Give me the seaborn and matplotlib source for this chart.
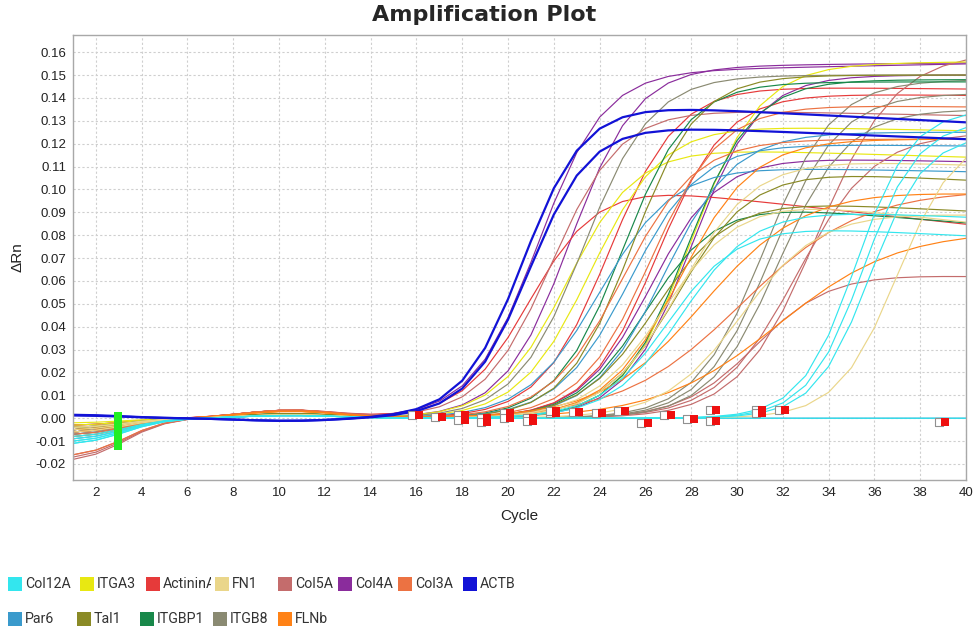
import numpy as np
import pandas as pd
import matplotlib
matplotlib.use("Agg")
import matplotlib.pyplot as plt
import seaborn as sns
from matplotlib.patches import Rectangle
from matplotlib.transforms import Bbox

# ---------------- data ----------------
genes = ["Col12A", "ITGA3", "ActininA", "FN1", "Col5A", "Col4A", "Col3A",
         "ACTB", "Par6", "Tal1", "ITGBP1", "ITGB8", "FLNb"]
gene_colors = ["#33e6ee", "#e8e812", "#e63a3a", "#ead68a", "#c46c6c", "#8a2c9c",
               "#ec7242", "#1212d6", "#3a9acc", "#8a8a26", "#18884a", "#8a8a72",
               "#ff8216"]
# small baseline hump around cycle 10 per gene
gene_bump = [0.0012, 0.0015, 0.0035, 0.0015, 0.0035, 0.0015, 0.0035,
             -0.0012, 0.0012, 0.0020, 0.0020, 0.0015, 0.0030]

cycles = list(range(1, 41))

# one entry per well (amplification curve)
well_gene = ["ACTB", "ACTB",
             "Col4A", "Col4A", "Col4A", "Col4A",
             "ActininA", "ActininA", "ActininA",
             "Col5A", "Col5A", "Col5A", "Col5A",
             "ITGA3", "ITGA3", "ITGA3",
             "ITGB8", "ITGB8", "ITGB8", "ITGB8",
             "ITGBP1", "ITGBP1", "ITGBP1",
             "Par6", "Par6", "Par6", "Par6",
             "Tal1", "Tal1", "Tal1",
             "Col3A", "Col3A", "Col3A",
             "FLNb", "FLNb", "FLNb",
             "FN1", "FN1", "FN1", "FN1",
             "Col12A", "Col12A", "Col12A", "Col12A", "Col12A", "Col12A"]
# half-plateau cycle
well_mid = [20.65, 20.9,
            21.3, 22.7, 26.2, 28.0,
            20.9, 24.4, 26.5,
            21.9, 30.8, 33.5, 32.6,
            22.55, 23.6, 28.0,
            23.3, 31.2, 31.5, 31.8,
            25.0, 26.0, 27.8,
            25.3, 24.0, 26.8, 99.0,
            25.4, 27.4, 26.4,
            26.2, 25.0, 30.2,
            27.5, 31.8, 28.5,
            27.5, 26.8, 30.2, 37.0,
            27.0, 27.6, 35.2, 35.5, 35.8, 99.0]
well_plateau = [0.137, 0.128,
                0.152, 0.154, 0.114, 0.150,
                0.101, 0.145, 0.142,
                0.135, 0.063, 0.160, 0.125,
                0.118, 0.128, 0.155,
                0.150, 0.148, 0.142, 0.135,
                0.147, 0.093, 0.148,
                0.120, 0.110, 0.125, 0.0,
                0.150, 0.108, 0.095,
                0.137, 0.122, 0.100,
                0.122, 0.082, 0.100,
                0.113, 0.095, 0.090, 0.125,
                0.084, 0.091, 0.135, 0.130, 0.124, 0.0]
well_scale = [1.33, 1.33,
              1.45, 1.45, 1.5, 1.45,
              1.45, 1.5, 1.5,
              1.5, 1.6, 1.7, 1.7,
              1.5, 1.55, 1.5,
              1.5, 1.5, 1.5, 1.5,
              1.45, 1.5, 1.45,
              1.55, 1.6, 1.55, 1.5,
              1.45, 1.6, 1.6,
              1.55, 1.6, 2.6,
              1.6, 2.6, 2.2,
              1.6, 1.6, 1.7, 1.3,
              1.5, 1.55, 1.2, 1.2, 1.2, 1.5]
# late-cycle drift of the plateau (dRn per cycle)
well_drift = [-0.0005, -0.0004,
              0.0002, 0.0001, -0.0002, 0.0,
              -0.0011, -0.0001, -0.0001,
              -0.0002, -0.0002, 0.0, 0.0,
              -0.0003, -0.0002, 0.0001,
              0.0, 0.0, 0.0, 0.0,
              0.0, -0.0008, 0.0,
              -0.0001, -0.0002, 0.0, 0.0,
              0.0, -0.0005, -0.0005,
              -0.0001, 0.0, 0.0,
              0.0, 0.0, -0.0003,
              -0.0003, -0.0011, -0.0002, 0.0,
              -0.0005, -0.0004, 0.0, 0.0, 0.0, 0.0]
# dRn at cycle 1
well_start = [0.0015, 0.0012,
              -0.004, -0.005, -0.003, -0.006,
              -0.005, -0.004, -0.003,
              -0.006, -0.017, -0.018, -0.016,
              -0.002, -0.003, -0.004,
              -0.005, -0.007, -0.006, -0.007,
              -0.006, -0.005, -0.004,
              -0.007, -0.006, -0.008, -0.009,
              -0.004, -0.005, -0.005,
              -0.007, -0.006, -0.016,
              -0.005, -0.008, -0.006,
              -0.004, -0.005, -0.006, -0.004,
              -0.011, -0.010, -0.009, -0.008, -0.010, -0.011]

# baseline end markers (cycle, dRn)
end_marker_cycle = [16.1, 17.1, 18.1, 18.1, 19.1, 19.1, 20.1, 20.1, 21.1, 21.1,
                    22.1, 22.1, 23.1, 24.1, 25.1, 26.1, 27.1, 28.1, 29.1, 29.1,
                    31.1, 31.1, 32.1, 39.1]
end_marker_value = [0.0013, 0.0006, 0.0012, -0.0008, 0.0002, -0.0018, 0.0022, 0.0002,
                    0.0002, -0.0014, 0.0022, 0.0032, 0.0026, 0.0022, 0.0030, -0.0023,
                    0.0013, -0.0004, 0.0036, -0.0010, 0.0036, 0.0022, 0.0036, -0.0016]
# baseline start markers at cycle 3
start_marker_cycle = 2.95
start_marker_value = [0.001, 0.0, -0.001, -0.002, -0.003, -0.004, -0.005, -0.006,
                      -0.007, -0.008, -0.009, -0.010, -0.011, -0.012]

# legend layout: two rows as in the instrument software
legend_rows = [["Col12A", "ITGA3", "ActininA", "FN1", "Col5A", "Col4A", "Col3A", "ACTB"],
               ["Par6", "Tal1", "ITGBP1", "ITGB8", "FLNb"]]

# ---------------- build long table ----------------
c = np.array(cycles, dtype=float)
ramp = 1.0 / (1.0 + np.exp((c - 3.3) / 0.9))
ramp = ramp / ramp[0]
bump_shape = np.exp(-((c - 10.5) / 3.0) ** 2)
gene_bump_map = dict(zip(genes, gene_bump))
rows = []
for i, g in enumerate(well_gene):
    m, p, s, d, st = well_mid[i], well_plateau[i], well_scale[i], well_drift[i], well_start[i]
    curve = p / (1.0 + np.exp(-(c - m) / s))
    curve = curve - curve[0]
    curve = curve + d * np.logaddexp(0.0, c - m - 3.0 * s)
    curve = curve + st * ramp + gene_bump_map[g] * bump_shape
    for cc, v in zip(cycles, curve):
        rows.append({"Cycle": cc, "dRn": v, "Gene": g, "Well": i})
df = pd.DataFrame(rows)

# ---------------- plot ----------------
sns.set_theme(style="white")
plt.rcParams["font.family"] = ["Liberation Sans", "DejaVu Sans"]

W, H = 973, 637
fig = plt.figure(figsize=(W / 100, H / 100), dpi=100)
ax = fig.add_axes([73 / W, 1 - 480 / H, (966 - 73) / W, (480 - 35) / H])

palette = dict(zip(genes, gene_colors))
other = df[df["Gene"] != "ACTB"]
actb = df[df["Gene"] == "ACTB"]
sns.lineplot(data=other, x="Cycle", y="dRn", hue="Gene", units="Well",
             estimator=None, palette=palette, linewidth=0.85, legend=False,
             ax=ax, sort=True)
sns.lineplot(data=actb, x="Cycle", y="dRn", hue="Gene", units="Well",
             estimator=None, palette=palette, linewidth=1.6, legend=False,
             ax=ax, sort=True)

# markers
ax.scatter([x - 0.28 for x in end_marker_cycle], end_marker_value, marker="s", s=32,
           facecolor="white", edgecolor="#909090", linewidth=0.8, zorder=5)
ax.scatter(end_marker_cycle, end_marker_value, marker="s", s=38,
           color="#ee1010", linewidth=0, zorder=6)
ax.scatter([start_marker_cycle] * len(start_marker_value), start_marker_value,
           marker="s", s=36, color="#22ee22", linewidth=0, zorder=6)

ax.set_xlim(1, 40)
ax.set_ylim(-0.027, 0.1675)
ax.set_xticks(range(2, 41, 2))
yt = np.round(np.arange(-0.02, 0.1601, 0.01), 2)
ax.set_yticks(yt)
ax.set_yticklabels([f"{v:.2f}" for v in yt])
ax.grid(True, color="#cfcfcf", linestyle=(0, (2, 2)), linewidth=0.8)
ax.tick_params(axis="both", labelsize=9.5, length=3, color="#909090",
               labelcolor="#222222", pad=2)
for sp in ax.spines.values():
    sp.set_color("#a8a8a8")
    sp.set_linewidth(1.0)
ax.set_xlabel("Cycle", fontsize=11, color="#222222", labelpad=7)
ax.set_ylabel("\u0394Rn", fontsize=11, color="#222222", labelpad=8)
fig.text(0.498, 0.977, "Amplification Plot", ha="center", va="center",
         fontsize=16, fontweight="bold", family="DejaVu Sans")

# legend drawn as swatches + labels in figure pixel coordinates
row_x = [[8, 80, 146, 215, 278, 338, 398, 463], [8, 77, 140, 213, 278]]
row_y = [584, 619]
sw = 14
for r, names in enumerate(legend_rows):
    for j, g in enumerate(names):
        x0 = row_x[r][j]
        yc = row_y[r]
        fig.patches.append(Rectangle((x0 / W, 1 - (yc + sw / 2) / H), sw / W, sw / H,
                                     transform=fig.transFigure, facecolor=palette[g],
                                     edgecolor="none"))
        t = fig.text((x0 + sw + 3) / W, 1 - yc / H, g, ha="left", va="center",
                     fontsize=10.2, color="#333333", family=["Roboto", "DejaVu Sans"])
        if j + 1 < len(names):
            right = row_x[r][j + 1] - 4
            t.set_clip_box(Bbox([[0, 0], [right, H]]))
            t.set_clip_on(True)

fig.savefig("out.png", dpi=100)
